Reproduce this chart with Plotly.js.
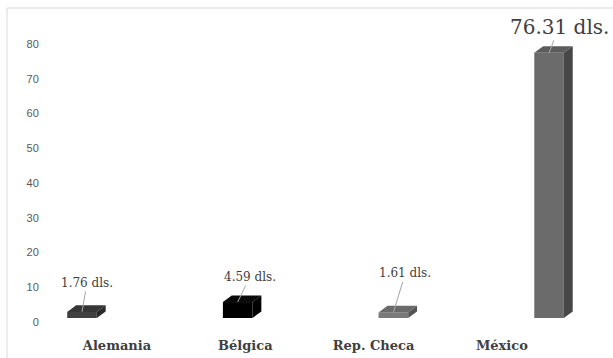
<!DOCTYPE html>
<html>
<head>
<meta charset="utf-8">
<script src="https://cdn.plot.ly/plotly-3.0.1.min.js"></script>
<style>html,body{margin:0;padding:0;background:#fff;}#chart{width:613px;height:358px;}</style>
</head>
<body>
<div id="chart"></div>
<script>
// ---- data ----
const categories = ["Alemania", "Bélgica", "Rep. Checa", "México"];
const values = [1.76, 4.59, 1.61, 76.31];
const valueLabels = ["1.76 dls.", "4.59 dls.", "1.61 dls.", "76.31 dls."];
const yTicks = [0, 10, 20, 30, 40, 50, 60, 70, 80];

// ---- styles ----
const frontColors = ["#404040", "#000000", "#7a7a7a", "#6b6b6b"];
const topColors   = ["#363636", "#0a0a0a", "#6a6a6a", "#5c5c5c"];
const sideColors  = ["#2a2a2a", "#000000", "#555555", "#474747"];
const labelOffsets = [[5, -29], [12, -25], [12, -39], [10, -26]];
const labelSizes = [12, 12, 12, 20];
const serif = "DejaVu Serif, Liberation Serif, serif";

const idx = categories.map((c, i) => i);
const barW = 0.19, dx = 0.057, dy = 1.9;

const traces = [];
traces.push({
  type: "bar", x: idx, y: values, width: barW,
  marker: { color: frontColors, line: { width: 0 } },
  hoverinfo: "skip", showlegend: false
});
idx.forEach(i => {
  const v = values[i], l = i - barW / 2, r = i + barW / 2;
  traces.push({
    type: "scatter", mode: "lines", fill: "toself",
    x: [l, r, r + dx, l + dx, l], y: [v, v, v + dy, v + dy, v],
    line: { width: 0 }, fillcolor: topColors[i], hoverinfo: "skip", showlegend: false
  });
  traces.push({
    type: "scatter", mode: "lines", fill: "toself",
    x: [r, r + dx, r + dx, r, r], y: [0, dy, v + dy, v, 0],
    line: { width: 0 }, fillcolor: sideColors[i], hoverinfo: "skip", showlegend: false
  });
});
// invisible trace carrying the label axes
traces.push({
  type: "scatter", mode: "markers", x: idx, y: yTicks.slice(0, 4),
  xaxis: "x2", yaxis: "y2", marker: { opacity: 0 }, hoverinfo: "skip", showlegend: false
});

const annotations = idx.map(i => ({
  x: i, y: values[i], xref: "x", yref: "y",
  text: valueLabels[i], showarrow: true, arrowhead: 0, arrowwidth: 1,
  arrowcolor: "#a6a6a6", ax: labelOffsets[i][0], ay: labelOffsets[i][1],
  font: { family: serif, size: labelSizes[i], color: "#404040" }
}));

const layout = {
  width: 613, height: 358,
  margin: { l: 50, r: 23, t: 30, b: 28 },
  paper_bgcolor: "#ffffff", plot_bgcolor: "#ffffff",
  showlegend: false,
  xaxis: { range: [-0.2056, 3.263], visible: false, fixedrange: true },
  yaxis: { range: [-3.453, 82.88], visible: false, fixedrange: true },
  xaxis2: {
    overlaying: "x", anchor: "y2", side: "bottom",
    range: [-0.522, 3.687], tickmode: "array", tickvals: idx, ticktext: categories,
    showgrid: false, zeroline: false, showline: false,
    ticks: "outside", ticklen: 3, tickcolor: "rgba(0,0,0,0)",
    tickfont: { family: serif, size: 13, color: "#404040", weight: "bold" }
  },
  yaxis2: {
    overlaying: "y", anchor: "x2", side: "left",
    range: [-2.302, 84.03], tickmode: "array", tickvals: yTicks,
    showgrid: false, zeroline: false, showline: false,
    ticks: "outside", ticklen: 8, tickcolor: "rgba(0,0,0,0)",
    tickfont: { family: "Liberation Sans, Arial, sans-serif", size: 11, color: "#595959" }
  },
  annotations: annotations,
  shapes: [
    { type: "line", xref: "paper", yref: "paper", x0: -0.0796, x1: 1.05, y0: 1.0733, y1: 1.0733, line: { color: "#d9d9d9", width: 1 } },
    { type: "line", xref: "paper", yref: "paper", x0: -0.0796, x1: -0.0796, y0: 1.0733, y1: -0.1, line: { color: "#d9d9d9", width: 1 } }
  ]
};

Plotly.newPlot("chart", traces, layout, { staticPlot: true, displayModeBar: false });
</script>
</body>
</html>
